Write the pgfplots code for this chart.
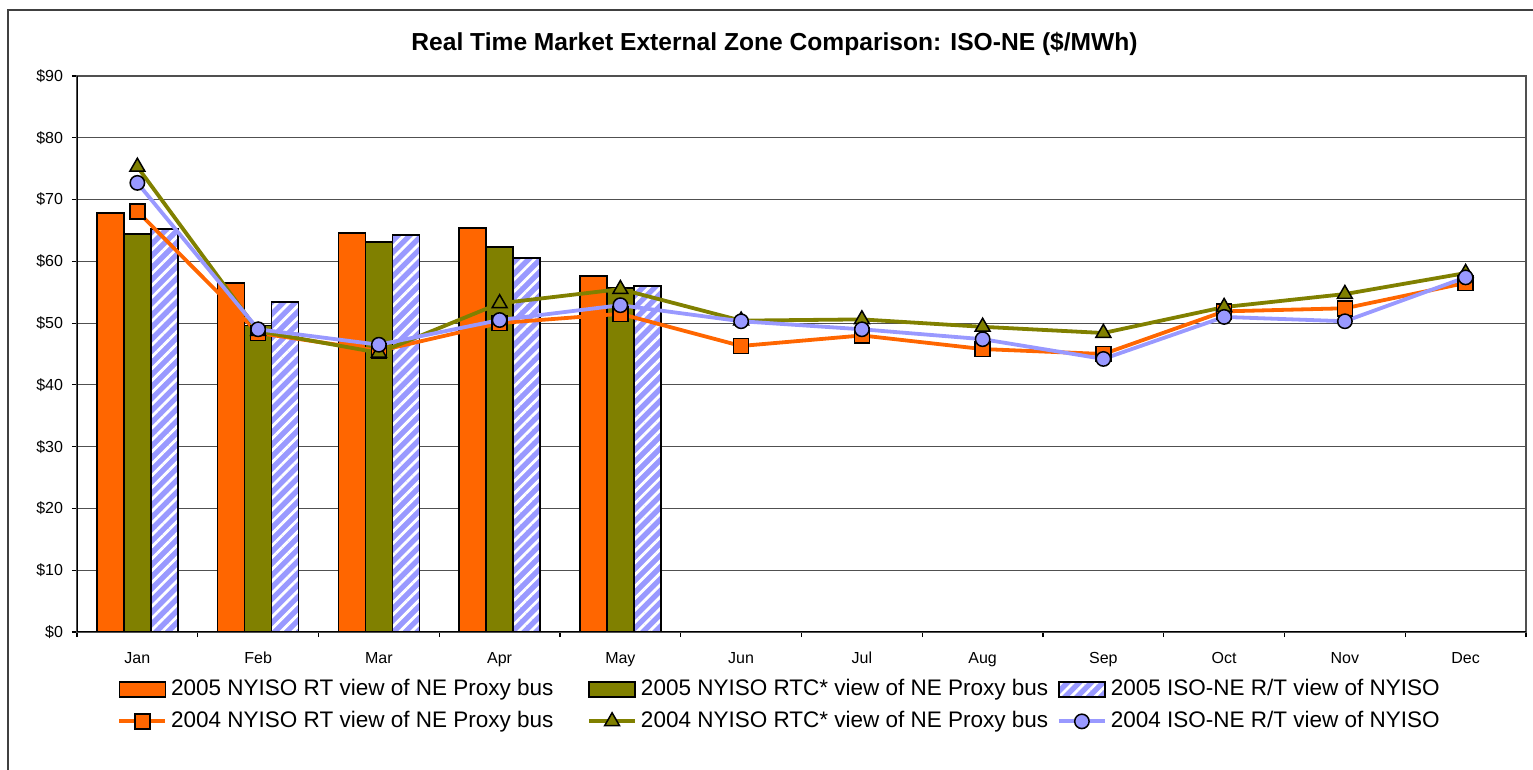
\documentclass[border=0pt]{standalone}
\usepackage{pgfplots}
\pgfplotsset{compat=1.18}
\usepackage{fontspec}
\setmainfont{Liberation Sans}
\usetikzlibrary{patterns.meta}

\definecolor{nyorange}{HTML}{FF6600}
\definecolor{nyolive}{HTML}{808000}
\definecolor{nylav}{HTML}{9999FF}
\definecolor{gridgray}{HTML}{505050}

% legend images: a flat box for bars, a short line with its mark for the lines
\pgfplotsset{
  barleg/.style={legend image code/.code={\draw[##1] (0bp,-3.7bp) rectangle (23bp,3.7bp);}},
  lineleg/.style={legend image code/.code={\draw[##1,mark repeat=2,mark phase=2] plot coordinates {(0bp,0bp) (11.5bp,0bp) (23bp,0bp)};}},
}
\newcommand{\legtxt}[1]{\makebox[210bp][l]{\hspace{2bp}#1}}

\begin{document}
\begin{tikzpicture}
\useasboundingbox (0,0) rectangle (766.5bp,385bp);
\draw[line width=0.8bp, black!75] (4bp,-2bp) -- (4bp,380bp) -- (775bp,380bp);
\begin{axis}[
    at={(38.5bp,69bp)}, anchor=south west,
    scale only axis, width=724.5bp, height=278bp,
    xmin=-0.5, xmax=11.5, ymin=0, ymax=90,
    xtick={-0.5,0.5,...,11.5}, xticklabels={},
    extra x ticks={0,1,...,11},
    extra x tick labels={Jan,Feb,Mar,Apr,May,Jun,Jul,Aug,Sep,Oct,Nov,Dec},
    extra x tick style={major tick length=0pt, xticklabel style={yshift=-6.5bp}},
    ytick={0,10,...,90},
    yticklabels={\$0,\$10,\$20,\$30,\$40,\$50,\$60,\$70,\$80,\$90},
    yticklabel style={xshift=-1bp},
    tick align=outside, tick pos=left, major tick length=2.5bp,
    tick style={black, line width=0.6bp},
    ticklabel style={font=\fontsize{8bp}{9.6bp}\selectfont},
    ymajorgrids, major grid style={gridgray, line width=0.6bp},
    axis line style={gridgray, line width=0.6bp},
    title={Real Time Market External Zone Comparison: ISO-NE (\$/MWh)},
    title style={font=\bfseries\fontsize{12.3bp}{14bp}\selectfont, at={(0.4814,1.036)}, anchor=center},
    legend columns=3, legend cell align=left,
    legend style={at={(0.0276,-0.0827)}, anchor=north west, draw=none, fill=none,
      inner sep=0pt, nodes={inner sep=0pt, text height=8.5bp, text depth=2.5bp},
      row sep=5bp, column sep=0pt, font=\fontsize{11.25bp}{13bp}\selectfont},
  ]

  % 2005 bars
  \addplot[ybar, bar width=13.5bp, bar shift=-13.5bp, fill=nyorange, draw=black, line width=0.75bp, barleg]
    coordinates {(0,67.8) (1,56.5) (2,64.6) (3,65.4) (4,57.6)};
  \addlegendentry{\legtxt{2005 NYISO RT view of NE Proxy bus}}
  \addplot[ybar, bar width=13.5bp, bar shift=0bp, fill=nyolive, draw=black, line width=0.75bp, barleg]
    coordinates {(0,64.4) (1,49.6) (2,63.1) (3,62.3) (4,55.7)};
  \addlegendentry{\legtxt{2005 NYISO RTC* view of NE Proxy bus}}
  \addplot[ybar, bar width=13.5bp, bar shift=13.5bp, fill=nylav, draw=black, line width=0.75bp,
      postaction={pattern={Lines[angle=45,distance=4.2bp,line width=1.4bp]}, pattern color=white}, barleg]
    coordinates {(0,65.2) (1,53.4) (2,64.3) (3,60.5) (4,56.0)};
  \addlegendentry{\legtxt{2005 ISO-NE R/T view of NYISO}}

  % 2004 lines
  \addplot[sharp plot, color=nyorange, line width=1.9bp, mark=square*, mark size=3.75bp,
      mark options={fill=nyorange, draw=black, line width=0.75bp}, lineleg]
    coordinates {(0,68.1) (1,48.4) (2,45.5) (3,50.0) (4,51.5) (5,46.3) (6,48.0) (7,45.8) (8,45.0) (9,51.9) (10,52.4) (11,56.5)};
  \addlegendentry{\legtxt{2004 NYISO RT view of NE Proxy bus}}
  \addplot[sharp plot, color=nyolive, line width=1.9bp, mark=triangle*, mark size=4.3bp,
      mark options={fill=nyolive, draw=black, line width=0.75bp}, lineleg]
    coordinates {(0,75.3) (1,48.7) (2,45.2) (3,53.2) (4,55.5) (5,50.4) (6,50.6) (7,49.4) (8,48.4) (9,52.6) (10,54.7) (11,58.1)};
  \addlegendentry{\legtxt{2004 NYISO RTC* view of NE Proxy bus}}
  \addplot[sharp plot, color=nylav, line width=1.9bp, mark=*, mark size=3.6bp,
      mark options={fill=nylav, draw=black, line width=0.75bp}, lineleg]
    coordinates {(0,72.7) (1,49.0) (2,46.5) (3,50.5) (4,52.9) (5,50.3) (6,49.0) (7,47.4) (8,44.2) (9,51.0) (10,50.3) (11,57.4)};
  \addlegendentry{\legtxt{2004 ISO-NE R/T view of NYISO}}

  \draw[black, line width=0.75bp] (rel axis cs:0,1) -- (rel axis cs:0,0) -- (rel axis cs:1,0);
\end{axis}
\end{tikzpicture}
\end{document}
